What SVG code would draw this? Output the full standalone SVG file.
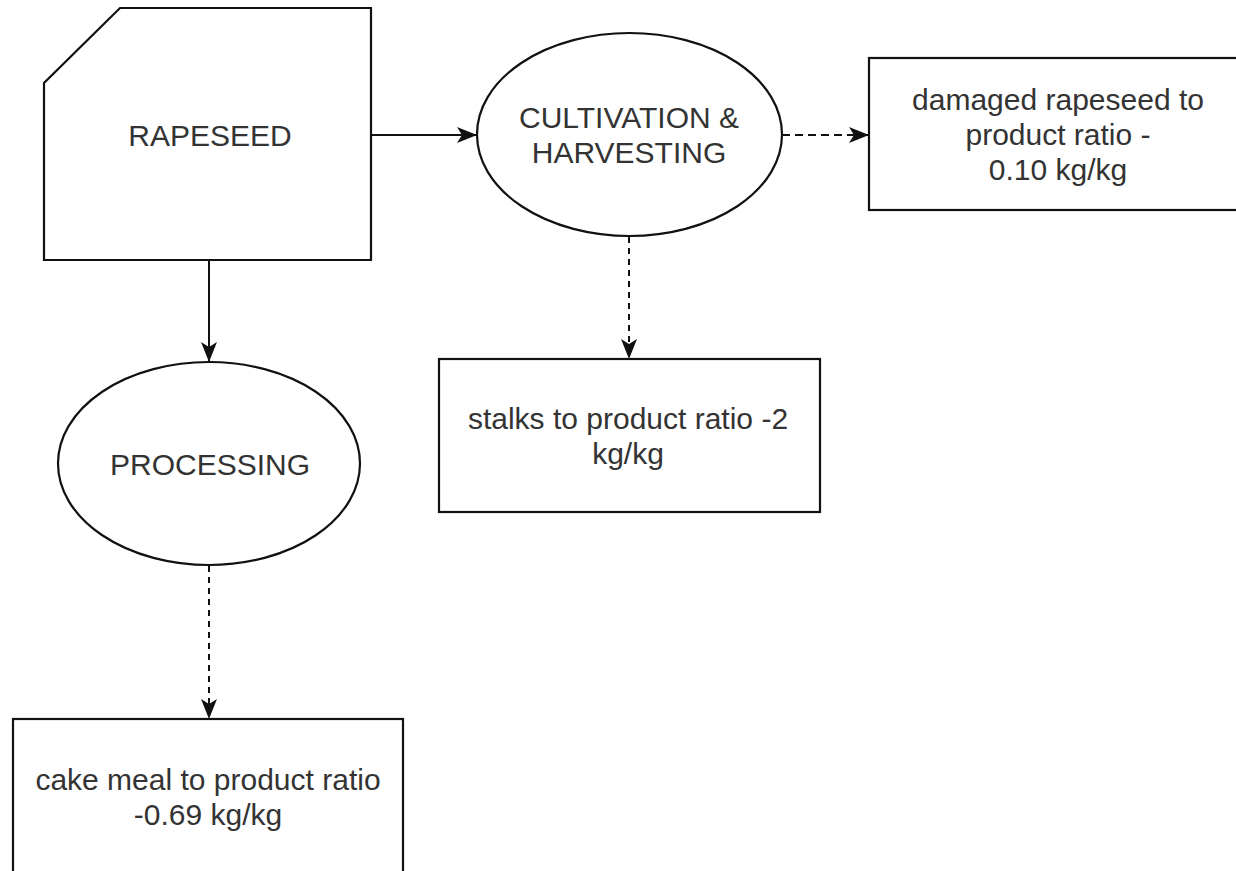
<svg xmlns="http://www.w3.org/2000/svg" width="1236" height="871" viewBox="0 0 1236 871">
<defs>
<style>
.shape{fill:#ffffff;stroke:#111111;stroke-width:2.2}
.lbl{font-family:"Liberation Sans",Arial,Helvetica,sans-serif;font-size:30px;fill:#333333;text-anchor:middle}
.edge{fill:none;stroke:#111111;stroke-width:2}
.dashh{stroke-dasharray:8 5}
.dashv{stroke-dasharray:6 5}
</style>
<marker id="arr" viewBox="0 0 20 16" refX="19" refY="8" markerWidth="20" markerHeight="16" markerUnits="userSpaceOnUse" orient="auto">
<path d="M0,0 L20,8 L0,16 L5,8 Z" fill="#111111"/>
</marker>
</defs>
<rect width="1236" height="871" fill="#ffffff"/>
<g id="connectors">
<path class="edge" d="M371,135 L476,135" marker-end="url(#arr)"/>
<path class="edge dashh" d="M782,135 L868,135" marker-end="url(#arr)"/>
<path class="edge dashv" d="M629,237 L629,358" marker-end="url(#arr)"/>
<path class="edge" d="M209,261 L209,361" marker-end="url(#arr)"/>
<path class="edge dashv" d="M209,566 L209,718" marker-end="url(#arr)"/>
</g>
<g id="rapeseed">
<path class="shape" d="M120,8 L371,8 L371,260 L44,260 L44,83 Z"/>
<text class="lbl" x="210" y="146">RAPESEED</text>
</g>
<g id="cultivation">
<ellipse class="shape" cx="629.5" cy="134.5" rx="152.5" ry="101.5"/>
<text class="lbl" x="629" y="128">CULTIVATION &amp;</text>
<text class="lbl" x="629" y="163">HARVESTING</text>
</g>
<g id="damaged">
<rect class="shape" x="869" y="58" width="380" height="152"/>
<text class="lbl" x="1058" y="110">damaged rapeseed to</text>
<text class="lbl" x="1058" y="145">product ratio -</text>
<text class="lbl" x="1058" y="180">0.10 kg/kg</text>
</g>
<g id="stalks">
<rect class="shape" x="439" y="359" width="381" height="153"/>
<text class="lbl" x="628" y="429">stalks to product ratio -2</text>
<text class="lbl" x="628" y="464">kg/kg</text>
</g>
<g id="processing">
<ellipse class="shape" cx="209" cy="463.5" rx="151" ry="101.5"/>
<text class="lbl" x="210" y="475">PROCESSING</text>
</g>
<g id="cakemeal">
<rect class="shape" x="13" y="719" width="390" height="170"/>
<text class="lbl" x="208" y="790">cake meal to product ratio</text>
<text class="lbl" x="208" y="825">-0.69 kg/kg</text>
</g>
</svg>
